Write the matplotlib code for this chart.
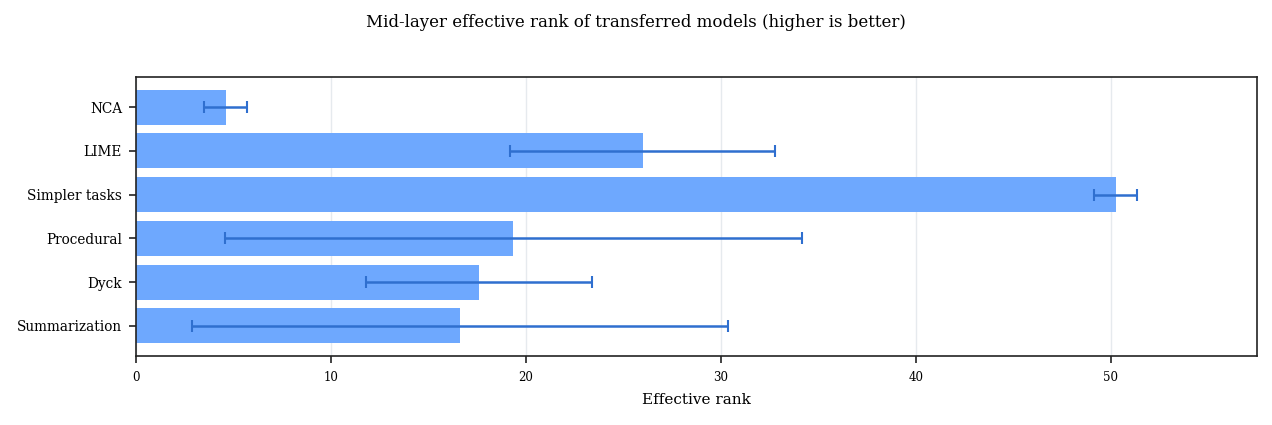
import numpy as np
import matplotlib
matplotlib.use("Agg")
import matplotlib.pyplot as plt

# data
methods = ["Summarization", "Dyck", "Procedural", "Simpler tasks", "LIME", "NCA"]
eff_rank = [16.6, 17.6, 19.35, 50.25, 26.0, 4.6]
eff_err = [13.75, 5.8, 14.8, 1.1, 6.8, 1.1]

plt.rcParams["font.family"] = "DejaVu Serif"

fig = plt.figure(figsize=(12.72, 4.25), dpi=100)
ax = fig.add_axes([0.1069, 0.1624, 0.8813, 0.6564])

y = np.arange(len(methods))
ax.barh(y, eff_rank, height=0.8, color="#6ea8fe", zorder=2)
ax.errorbar(eff_rank, y, xerr=eff_err, fmt="none", ecolor="#2f6fcf",
            elinewidth=1.8, capsize=4, capthick=1.5, zorder=3)

ax.set_yticks(y)
ax.set_yticklabels(methods, fontsize=9.8)
ax.tick_params(axis="x", labelsize=8.5, pad=6)
ax.tick_params(axis="y", pad=5)
ax.set_xlim(0, 57.5)
ax.set_xlabel("Effective rank", fontsize=11, labelpad=6)
ax.grid(axis="x", color="#e6eaee", linewidth=1, zorder=0)
ax.set_axisbelow(True)
for s in ax.spines.values():
    s.set_linewidth(1.2)
    s.set_color("#222222")
ax.tick_params(width=1.2, length=5, color="#222222")

fig.suptitle("Mid-layer effective rank of transferred models (higher is better)",
             fontsize=12, y=0.967)

fig.savefig("out.png", dpi=100)
